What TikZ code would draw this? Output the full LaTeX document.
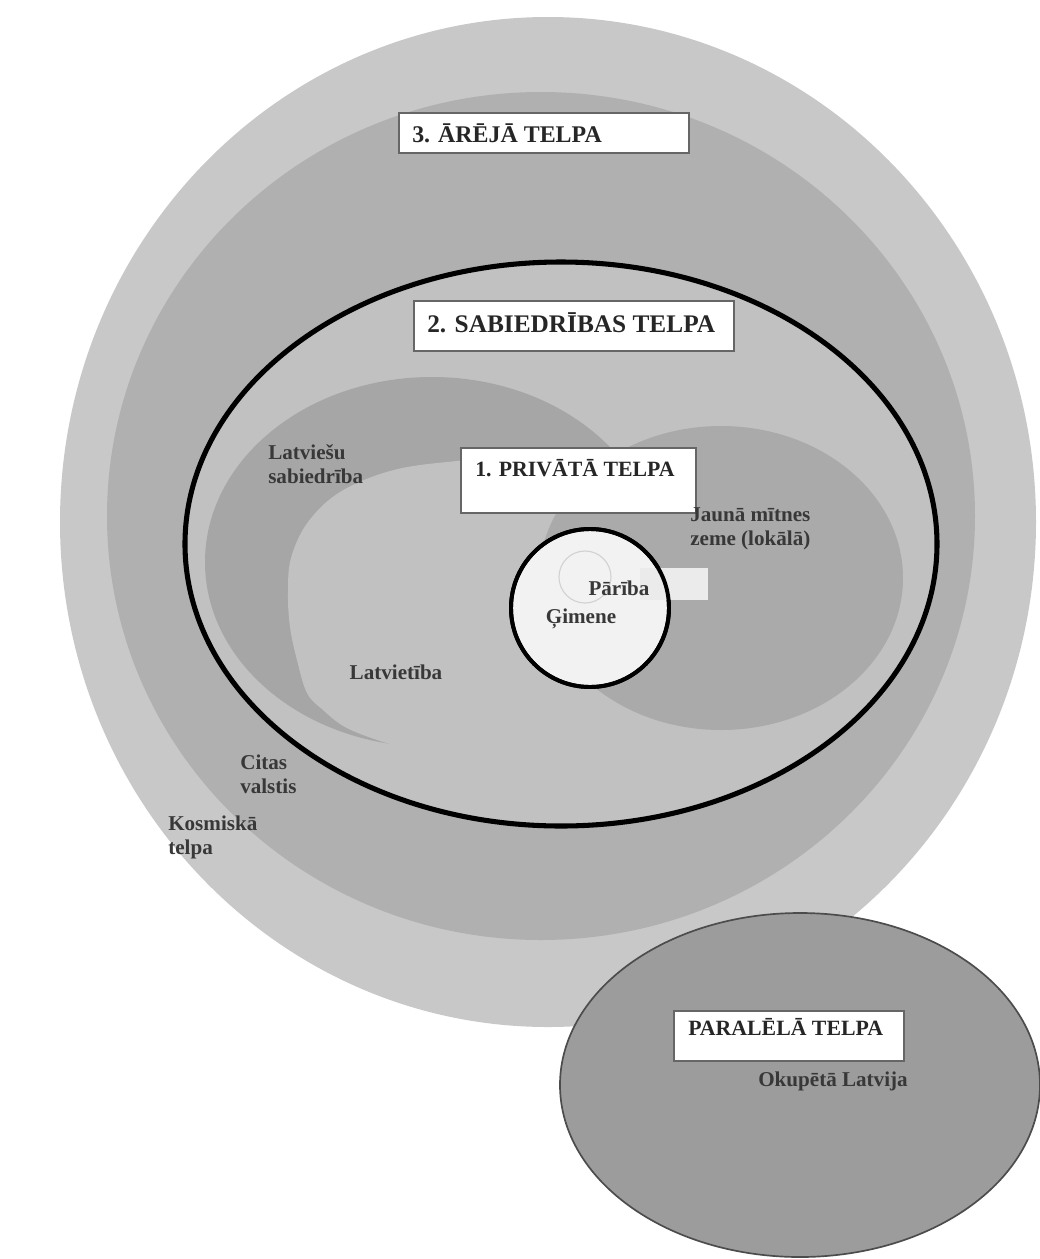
\documentclass[tikz,border=0pt]{standalone}
\usepackage{fontspec}
\setmainfont{Liberation Serif}
\begin{document}
\begin{tikzpicture}[x=0.025cm,y=-0.025cm,
  hdr/.style={draw=gray!80!black,line width=1.2pt,fill=white,anchor=north west,inner sep=0pt},
  htx/.style={font=\bfseries\fontsize{#1}{18}\selectfont,anchor=west,inner sep=0pt,text=black!85},
  lbl/.style={font=\bfseries\fontsize{15}{17}\selectfont,text=black!78,align=left,inner sep=0pt}]
\useasboundingbox (0,0) rectangle (1040,1259);
\definecolor{gOuter}{HTML}{C8C8C8}
\definecolor{gRing}{HTML}{B0B0B0}
\definecolor{gIn}{HTML}{C1C1C1}
\definecolor{gDark}{HTML}{A6A6A6}
\definecolor{gJauna}{HTML}{AAAAAA}
\definecolor{gPar}{HTML}{9C9C9C}
% outer cosmic space
\fill[gOuter] (548,522) ellipse [x radius=488, y radius=505];
% other countries ring
\fill[gRing] (541,516) ellipse [x radius=434, y radius=424];
% society space
\fill[gIn] (561,544) ellipse [x radius=376, y radius=282];
% Latviesu sabiedriba (dark crescent)
\fill[gDark] (432,562) ellipse [x radius=227, y radius=185];
% Latvietiba (light region cutting the crescent)
\fill[gIn] plot[smooth,tension=0.6] coordinates {(405,748) (377,740) (345,727) (323,710) (307,693) (297,660) (290,627) (288,593) (291,558) (308,522) (340,492) (390,471) (447,462) (520,458) (620,468)}
  -- (680,480) -- (680,760) -- (470,775) -- cycle;
% Jauna mitnes zeme
\fill[gJauna] (721,578) ellipse [x radius=182, y radius=152];
% thick border
\draw[line width=3.6pt] (561,544) ellipse [x radius=376, y radius=282];
% family circle
\draw[line width=2.8pt,fill=white!95!black] (590,608) circle [radius=79];
\draw[gray!35,line width=0.8pt] (585,577) circle [radius=26];
\fill[white!92!black] (640,568) rectangle (708,600);
\draw[line width=2.8pt] (590,608) circle [radius=79];
% parallel space
\draw[gray!60!black,line width=1.2pt,fill=gPar] (800,1085) ellipse [x radius=240, y radius=172];
% header boxes
\node[hdr,minimum width=290*0.025cm,minimum height=40*0.025cm] (h3) at (398,112) {};
\node[htx=17] (t3) at (412,133) {3. ĀRĒJĀ TELPA};
\node[hdr,minimum width=320*0.025cm,minimum height=50*0.025cm] (h2) at (413,300) {};
\node[htx=18] (t2) at (427,323) {2. SABIEDRĪBAS TELPA};
\node[hdr,minimum width=235*0.025cm,minimum height=65*0.025cm] (h1) at (460,447) {};
\node[htx=15.5] (t1) at (475,468) {1. PRIVĀTĀ TELPA};
\node[hdr,minimum width=230*0.025cm,minimum height=50*0.025cm] (hp) at (673,1010) {};
\node[htx=15.5] (tp) at (688,1027) {PARALĒLĀ TELPA};
% labels
\node[lbl,anchor=west] (ls) at (268,464) {Latviešu\\sabiedrība};
\node[lbl,anchor=west] (jz) at (690,529) {Jaunā mītnes\\zeme (lokālā)};
\node[lbl] (lv) at (396,672) {Latvietība};
\node[lbl] (gm) at (581,619) {Ģimene};
\node[lbl] (pr) at (619,588) {Pārība};
\node[lbl,anchor=west] (cv) at (240,774) {Citas\\valstis};
\node[lbl,anchor=west] (kt) at (168,837) {Kosmiskā\\telpa};
\node[lbl] (ok) at (833,1081) {Okupētā Latvija};
\end{tikzpicture}
\end{document}
